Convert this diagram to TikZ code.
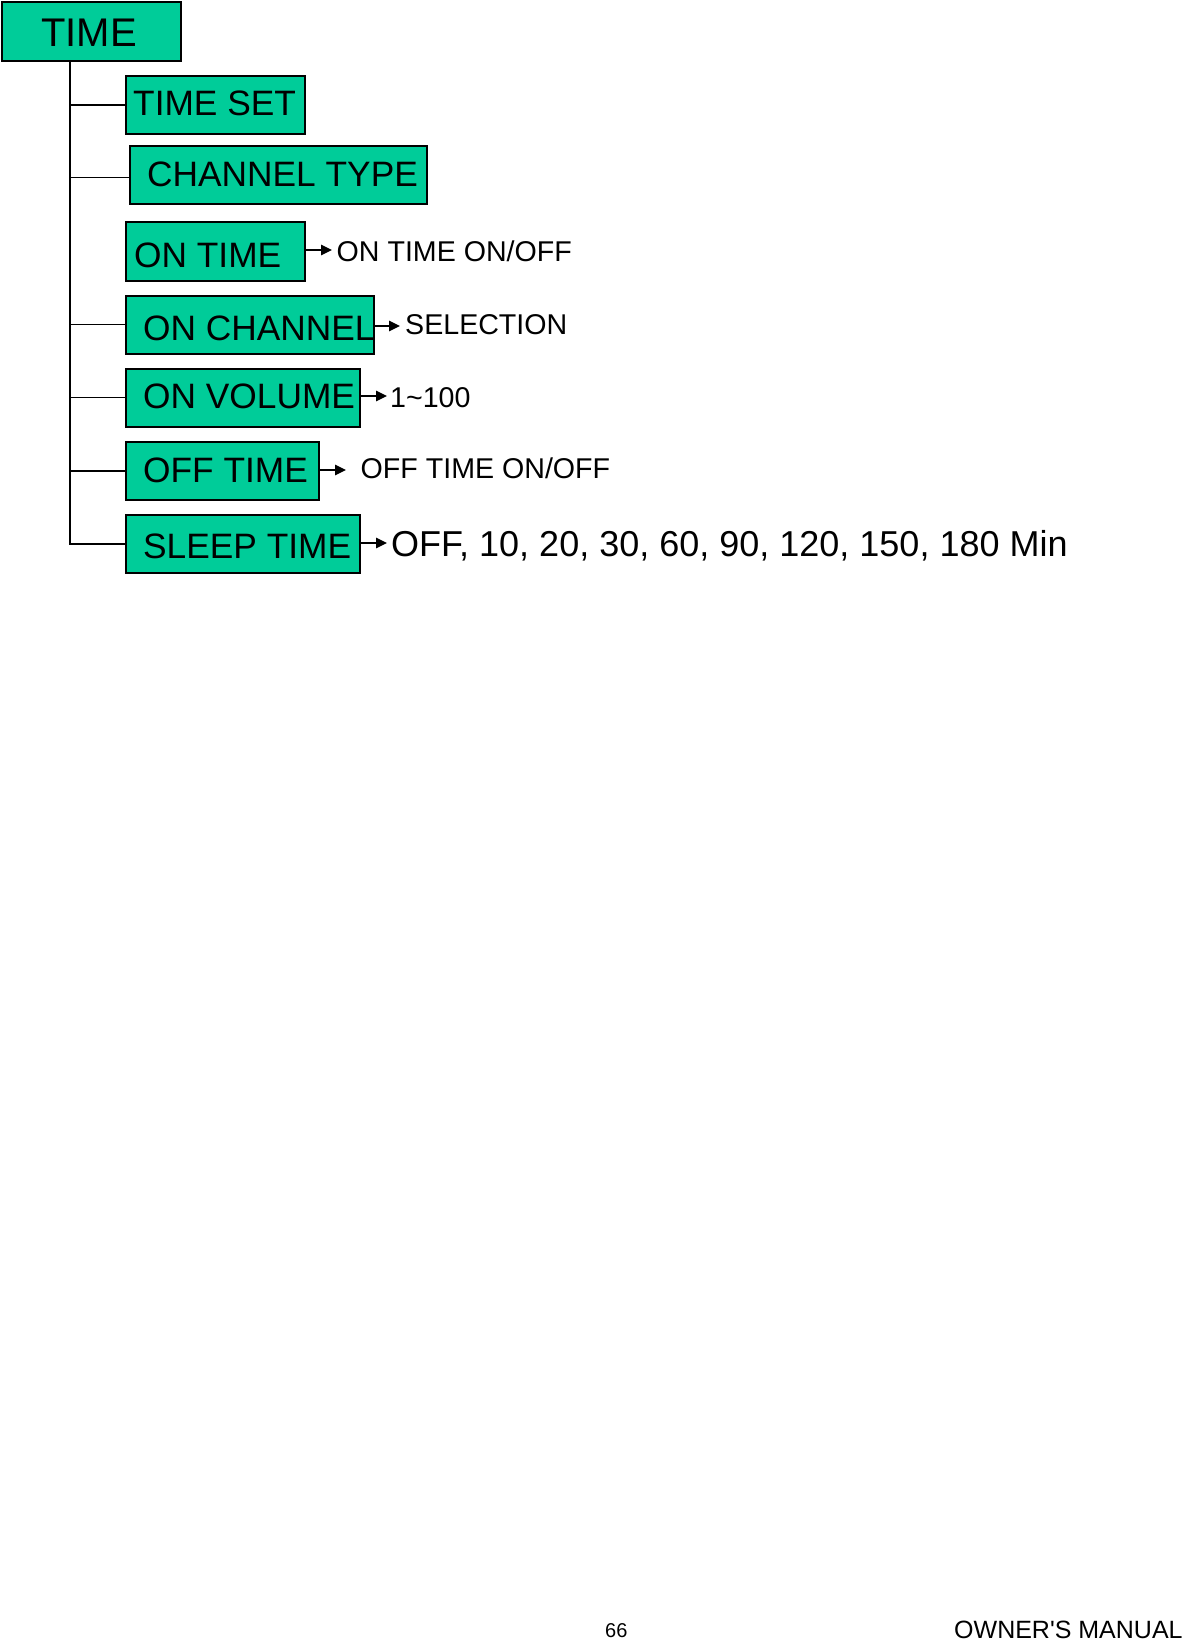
\documentclass[tikz,border=0pt]{standalone}
\usepackage{fontspec}
\setmainfont{Liberation Sans}
\usetikzlibrary{arrows.meta}
\definecolor{boxgreen}{RGB}{0,204,153}
\begin{document}
\begin{tikzpicture}[x=1pt,y=-1pt,
  box/.style={draw=black, line width=1.8pt, fill=boxgreen, inner sep=0pt, anchor=north west},
  lbl/.style={anchor=base west, inner sep=0pt, font=\fontsize{35.3}{42}\selectfont},
  small/.style={anchor=base west, inner sep=0pt, font=\fontsize{28.6}{34}\selectfont},
  trunkline/.style={line width=1.8pt},
  thickbranch/.style={line width=1.6pt},
  thinbranch/.style={line width=1pt},
  arr/.style={line width=1.3pt, -{Triangle[length=11pt,width=10.5pt]}}
]
\useasboundingbox (0,0) rectangle (1184,1640);
\fill[white] (0,0) rectangle (1184,1640);

% boxes
\node[box, minimum width=179pt, minimum height=59pt] (time) at (1,1) {};
\node[box, minimum width=179pt, minimum height=58pt] (timeset) at (125,75) {};
\node[box, minimum width=297pt, minimum height=58pt] (chtype) at (129,145) {};
\node[box, minimum width=179pt, minimum height=59pt] (ontime) at (125,221) {};
\node[box, minimum width=248pt, minimum height=58pt] (onchan) at (125,295) {};
\node[box, minimum width=234pt, minimum height=58pt] (onvol) at (125,368) {};
\node[box, minimum width=193pt, minimum height=58pt] (offtime) at (125,441) {};
\node[box, minimum width=234pt, minimum height=58pt] (sleep) at (125,514) {};

% box texts
\node[lbl, font=\fontsize{40}{48}\selectfont] (timet) at (41,47) {TIME};
\node[lbl] (timesett) at (133,116) {TIME SET};
\node[lbl] (chtypet) at (147,187) {CHANNEL TYPE};
\node[lbl] (ontimet) at (134,267) {ON TIME};
\node[lbl] (onchant) at (143,340) {ON CHANNEL};
\node[lbl] (onvolt) at (143,408) {ON VOLUME};
\node[lbl] (offtimet) at (143,482) {OFF TIME};
\node[lbl] (sleept) at (143,558) {SLEEP TIME};

% value texts
\node[small] (ontimev) at (336.5,261) {ON TIME ON/OFF};
\node[small] (onchanv) at (405,334) {SELECTION};
\node[small] (onvolv) at (390,407) {1\textasciitilde100};
\node[small] (offtimev) at (360.5,478) {OFF TIME ON/OFF};
\node[lbl, font=\fontsize{36}{43}\selectfont] (sleepv) at (391,556) {OFF, 10, 20, 30, 60, 90, 120, 150, 180 Min};

% trunk and branches
\coordinate (trunk) at (70,60);
\draw[trunkline] (time.south -| trunk) -- (trunk |- sleep.west) -- (sleep.west);
\draw[thickbranch] (trunk |- timeset.west) -- (timeset.west);
\draw[thickbranch] ([yshift=-2.7pt]chtype.west -| trunk) -- ([yshift=-2.7pt]chtype.west);
\draw[thinbranch] (trunk |- onchan.west) -- (onchan.west);
\draw[thinbranch] (trunk |- onvol.west) -- (onvol.west);
\draw[thickbranch] (trunk |- offtime.west) -- (offtime.west);

% arrows
\coordinate (ontimetip) at (332,250);
\coordinate (onchantip) at (400,326);
\coordinate (onvoltip) at (387,396);
\coordinate (offtimetip) at (346,470);
\coordinate (sleeptip) at (387,543);
\draw[arr] (ontime.east |- ontimetip) -- (ontimetip);
\draw[arr] (onchan.east |- onchantip) -- (onchantip);
\draw[arr] (onvol.east |- onvoltip) -- (onvoltip);
\draw[arr] (offtime.east |- offtimetip) -- (offtimetip);
\draw[arr] (sleep.east |- sleeptip) -- (sleeptip);

% footer
\node[anchor=base west, inner sep=0pt, font=\fontsize{20}{24}\selectfont] (pagenum) at (605,1637) {66};
\node[anchor=base west, inner sep=0pt, font=\fontsize{25}{30}\selectfont] (manual) at (954,1638) {OWNER\textquotesingle S MANUAL};
\end{tikzpicture}
\end{document}
